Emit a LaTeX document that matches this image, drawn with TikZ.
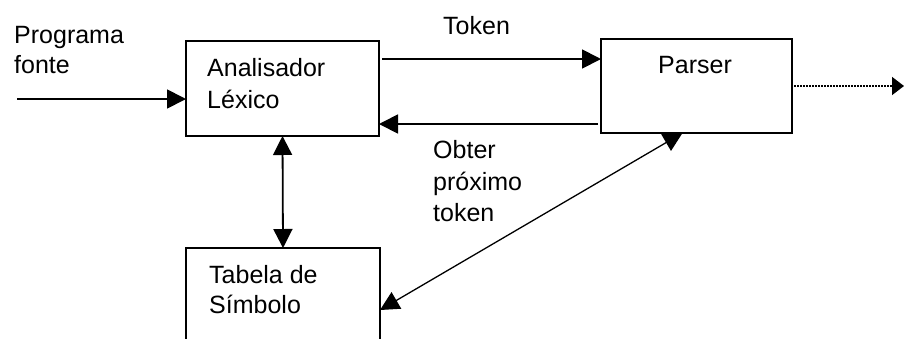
\documentclass[tikz,border=0pt]{standalone}
\usepackage{fontspec}
\setmainfont{Liberation Sans}
\usetikzlibrary{arrows.meta}
\begin{document}
\begin{tikzpicture}[x=1pt,y=-1pt,
  box/.style={draw,line width=1.8pt,anchor=north west,inner sep=0pt,outer sep=0pt},
  lbl/.style={anchor=base west,inner sep=0pt,font=\fontsize{25}{31}\selectfont},
  arr/.style={line width=1.8pt,-{Triangle[length=19pt,width=19pt]}},
  darr/.style={line width=1.8pt,{Triangle[length=19pt,width=19pt]}-{Triangle[length=19pt,width=19pt]}},
  dgarr/.style={line width=1.3pt,{Triangle[length=19pt,width=19pt]}-{Triangle[length=19pt,width=19pt]}},
  dotarr/.style={line width=1.6pt,dash pattern=on 1.5pt off 1.5pt,-{Triangle[length=12pt,width=18pt]}}]
\useasboundingbox (0,0) rectangle (904,338);
\clip (0,0) rectangle (904,338);
\fill[white] (0,0) rectangle (904,338);
% boxes
\node[box,minimum width=193pt,minimum height=95pt] (A) at (186,41) {};
\node[box,minimum width=191pt,minimum height=94pt] (P) at (601,39) {};
\node[box,minimum width=194pt,minimum height=110pt] (T) at (186,248) {};
% texts
\node[lbl] (prog1) at (14,43) {Programa};
\node[lbl] (prog2) at (14,73) {fonte};
\node[lbl] (anal1) at (207,76) {Analisador};
\node[lbl] (anal2) at (207,108) {Léxico};
\node[lbl] (tok) at (443,34) {Token};
\node[lbl] (pars) at (658,73) {Parser};
\node[lbl] (obt1) at (433,158) {Obter};
\node[lbl] (obt2) at (433,190) {próximo};
\node[lbl] (obt3) at (433,221) {token};
\node[lbl] (tab1) at (209,283) {Tabela de};
\node[lbl] (tab2) at (209,313) {Símbolo};
% connectors
\coordinate (src) at (17,99);
\coordinate (out) at (904,86);
\draw[arr] (src) -- (src -| A.west);
\draw[arr] ([xshift=3pt,yshift=-18pt]A.north east) -- ([yshift=-20pt]P.north west);
\draw[arr] ([xshift=-3pt,yshift=9pt]P.south west) -- ([yshift=12pt]A.south east);
\draw[dotarr] ([xshift=2pt]P.east) -- (out);
\draw[darr] (A.south) -- (T.north);
\draw[dgarr] ([xshift=-14pt]P.south) -- ([yshift=-62pt]T.north east);
\end{tikzpicture}
\end{document}
